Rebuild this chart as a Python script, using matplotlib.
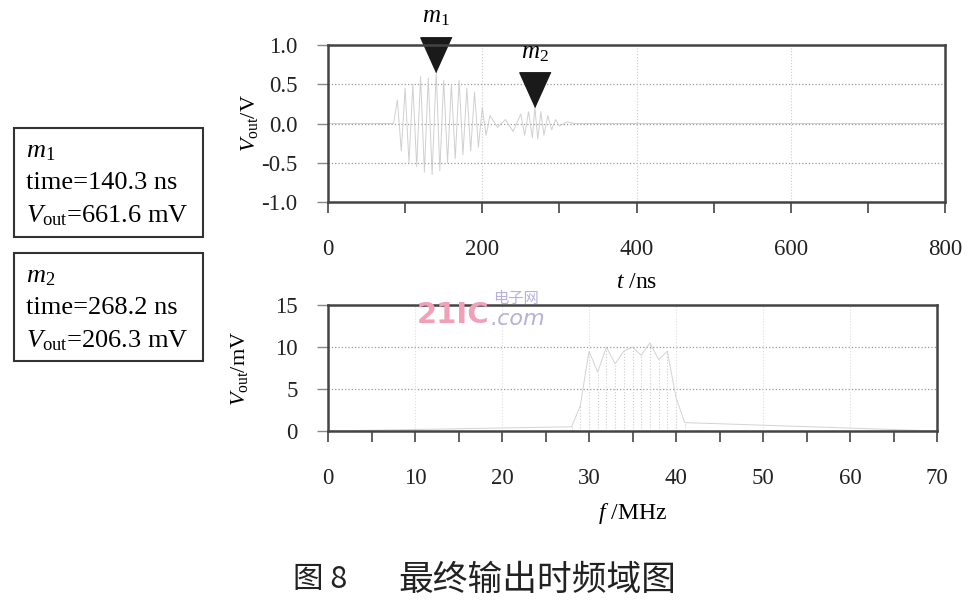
import matplotlib
matplotlib.use("Agg")
import matplotlib.pyplot as plt
from matplotlib.patches import Rectangle

plt.rcParams['font.family'] = ['Liberation Serif', 'DejaVu Sans']
plt.rcParams['mathtext.fontset'] = 'custom'
plt.rcParams['mathtext.rm'] = 'Liberation Serif'
plt.rcParams['mathtext.it'] = 'Liberation Serif:italic'

# ---- data ----
t_ns = [0, 85, 90, 95, 100, 105, 110, 115, 120, 125, 130, 135, 140.3, 145, 150, 155, 160,
        165, 170, 175, 180, 185, 190, 195, 200, 205, 210, 220, 230, 240, 250, 255, 260,
        265, 268.2, 272, 276, 280, 285, 290, 295, 300, 310, 320, 800]
v_out = [0, 0, 0.3, -0.35, 0.45, -0.5, 0.5, -0.55, 0.6, -0.62, 0.58, -0.65, 0.6616, -0.6,
         0.55, -0.5, 0.5, -0.45, 0.55, -0.4, 0.45, -0.35, 0.4, -0.3, 0.2, -0.15, 0.1, -0.05,
         0.05, -0.1, 0.12, -0.15, 0.15, -0.18, 0.2063, -0.2, 0.15, -0.15, 0.1, -0.08, 0.05,
         -0.03, 0.02, 0, 0]
f_mhz = [0, 28, 29, 30, 31, 32, 33, 34, 35, 36, 37, 38, 39, 40, 41, 70]
v_spec = [0, 0.5, 3, 9.5, 7, 10, 8, 9.5, 10, 9, 10.5, 8.5, 9.5, 4, 1, 0]
marker_t = [140.3, 268.2]
marker_v = [0.6616, 0.2063]
marker_names = ['1', '2']
x_top_ticks = [0, 200, 400, 600, 800]
y_top_ticks = [-1.0, -0.5, 0.0, 0.5, 1.0]
x_bot_ticks = [0, 10, 20, 30, 40, 50, 60, 70]
y_bot_ticks = [0, 5, 10, 15]

fig = plt.figure(figsize=(9.76, 6.13), dpi=100)
W, H = 976, 613
spine_c = '#444444'
tick_fs = 16.5

def style(ax):
    for s in ax.spines.values():
        s.set_color(spine_c)
        s.set_linewidth(1.8)
    ax.tick_params(axis='x', which='both', direction='out', length=8, width=1.2,
                   colors=spine_c, labelcolor='#222222', labelsize=tick_fs, pad=19)
    ax.tick_params(axis='y', which='both', direction='out', length=8, width=1.0,
                   colors='#888888', labelcolor='#222222', labelsize=tick_fs, pad=14)

# top axes
ax1 = fig.add_axes([328 / W, 1 - 202 / H, (945 - 328) / W, (202 - 45) / H])
ax1.plot(t_ns, v_out, color='#c4c4c4', lw=0.7, alpha=0.8)
ax1.set_xlim(0, 800)
ax1.set_ylim(-1, 1)
ax1.set_xticks(list(range(0, 801, 100)))
ax1.set_xticklabels([str(v) if v in x_top_ticks else '' for v in range(0, 801, 100)])
ax1.set_yticks(y_top_ticks)
ax1.set_yticklabels(['%.1f' % v for v in y_top_ticks])
ax1.grid(True, axis='y', ls=':', color='#999999', lw=0.9)
for xv in [200, 400, 600]:
    ax1.axvline(xv, ls=':', color='#cccccc', lw=0.8)
style(ax1)
ax1.set_xlabel(r'$t$ /ns', fontsize=17, labelpad=8)
ax1.set_ylabel(r'$V_{\rm out}$/V', fontsize=16, labelpad=1)
tri = [(0, 0), (-0.45, 1.0), (0.45, 1.0)]
for tv, vv, nm in zip(marker_t, marker_v, marker_names):
    ax1.plot([tv], [vv], marker=tri, markersize=50, color='#1a1a1a', ls='none', clip_on=False)
    ax1.annotate(r'$m_{%s}$' % nm, (tv, vv), xytext=(0, 39), textcoords='offset points',
                 ha='center', va='center', fontsize=18, annotation_clip=False)

# bottom axes
ax2 = fig.add_axes([328 / W, 1 - 431 / H, (937 - 328) / W, (431 - 305) / H])
ax2.plot(f_mhz, v_spec, color='#c8c8c8', lw=0.7, alpha=0.8)
for fv, sv in zip(f_mhz[1:-1], v_spec[1:-1]):
    ax2.vlines(fv, 0, sv, color='#cccccc', lw=0.8, ls=':')
ax2.set_xlim(0, 70)
ax2.set_ylim(0, 15)
ax2.set_xticks(list(range(0, 71, 5)))
ax2.set_xticklabels([str(v) if v in x_bot_ticks else '' for v in range(0, 71, 5)])
ax2.set_yticks(y_bot_ticks)
ax2.grid(True, axis='y', ls=':', color='#999999', lw=0.9)
for xv in [10, 20, 30, 40, 50, 60]:
    ax2.axvline(xv, ls=':', color='#dddddd', lw=0.8)
style(ax2)
ax2.set_xlabel(r'$f$ /MHz', fontsize=17, labelpad=8)
ax2.set_ylabel(r'$V_{\rm out}$/mV', fontsize=16, labelpad=18)

# marker info boxes
boxes = [(128, 237, 152, '1', '140.3', '661.6'), (253, 361, 277, '2', '268.2', '206.3')]
for y0, y1, yl, nm, tval, vval in boxes:
    fig.add_artist(Rectangle((14 / W, 1 - y1 / H), (203 - 14) / W, (y1 - y0) / H,
                             transform=fig.transFigure, fill=False, ec='#333333', lw=1.5))
    fig.text(26 / W, 1 - yl / H, r'$m_{%s}$' % nm, fontsize=19, va='center')
    fig.text(26 / W, 1 - (yl + 31) / H, 'time=%s ns' % tval, fontsize=19, va='center')
    fig.text(26 / W, 1 - (yl + 64) / H, r'$V_{\rm out}$=%s mV' % vval, fontsize=19, va='center')

# watermark
fig.text(489 / W, 1 - 323 / H, '21IC', fontsize=21, fontweight='bold', color='#f2a0b8',
         ha='right', family=['DejaVu Sans'])
fig.text(493 / W, 1 - 303 / H, '电子网', fontsize=11, color='#b8b0d8',
         family=['Noto Sans CJK SC'])
fig.text(491 / W, 1 - 325 / H, '.com', fontsize=16, style='italic', color='#b8b0d8',
         family=['DejaVu Sans'])

# caption
fig.text(320 / W, 1 - 580 / H, '图 8', fontsize=22, ha='center', va='center',
         family=['Noto Sans CJK SC', 'DejaVu Sans'], color='#222222')
fig.text(537 / W, 1 - 580 / H, '最终输出时频域图', fontsize=25, ha='center', va='center',
         family=['Noto Sans CJK SC', 'DejaVu Sans'], color='#222222')

fig.savefig('out.png', dpi=100)
